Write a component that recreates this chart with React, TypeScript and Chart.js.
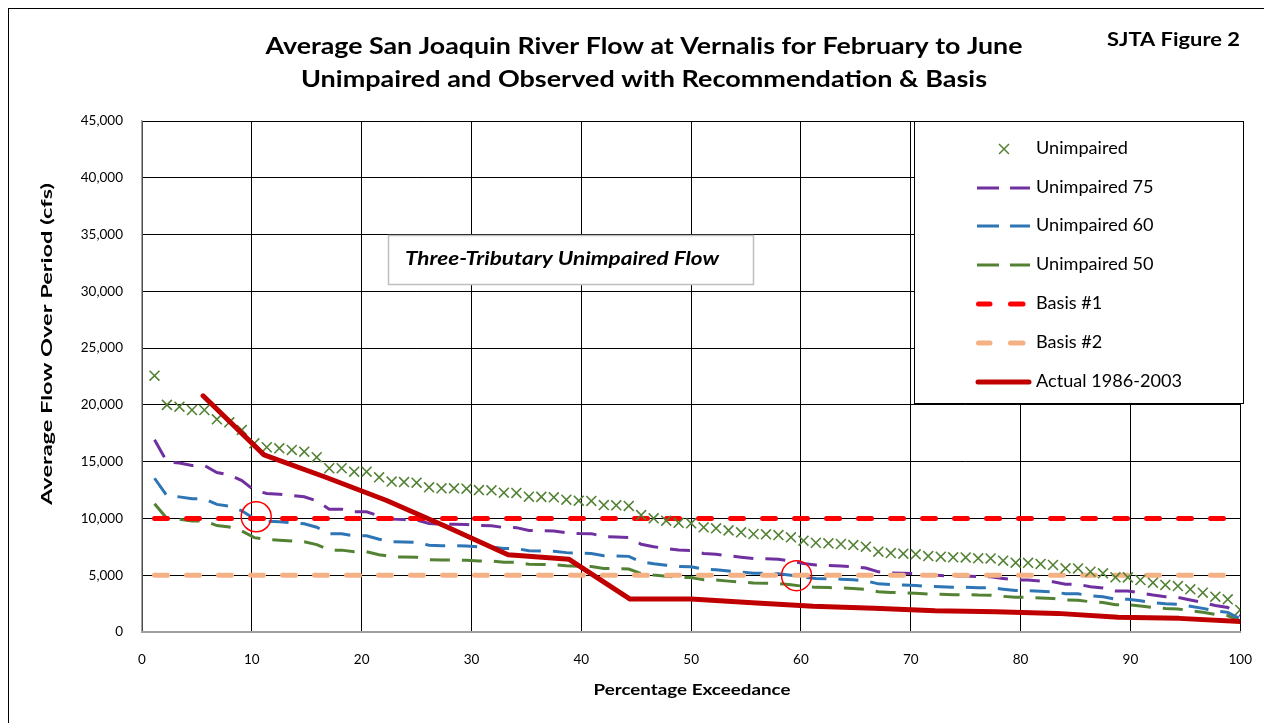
import React, { useEffect, useRef } from "react";
import { Chart, registerables } from "chart.js";

Chart.register(...registerables);

// ---- Data ----
const unimpairedPct = [
  1.14, 2.27, 3.41, 4.55, 5.68, 6.82, 7.95, 9.09, 10.23, 11.36,
  12.5, 13.64, 14.77, 15.91, 17.05, 18.18, 19.32, 20.45, 21.59, 22.73,
  23.86, 25.0, 26.14, 27.27, 28.41, 29.55, 30.68, 31.82, 32.95, 34.09,
  35.23, 36.36, 37.5, 38.64, 39.77, 40.91, 42.05, 43.18, 44.32, 45.45,
  46.59, 47.73, 48.86, 50.0, 51.14, 52.27, 53.41, 54.55, 55.68, 56.82,
  57.95, 59.09, 60.23, 61.36, 62.5, 63.64, 64.77, 65.91, 67.05, 68.18,
  69.32, 70.45, 71.59, 72.73, 73.86, 75.0, 76.14, 77.27, 78.41, 79.55,
  80.68, 81.82, 82.95, 84.09, 85.23, 86.36, 87.5, 88.64, 89.77, 90.91,
  92.05, 93.18, 94.32, 95.45, 96.59, 97.73, 98.86, 100.0,
];

const unimpaired = [
  22570, 20000, 19840, 19550, 19550, 18730, 18470, 17790, 16620, 16270,
  16180, 16030, 15880, 15390, 14420, 14420, 14120, 14120, 13620, 13250,
  13200, 13150, 12740, 12650, 12650, 12620, 12500, 12480, 12270, 12250,
  11920, 11900, 11860, 11650, 11560, 11540, 11180, 11160, 11100, 10300,
  10010, 9800, 9620, 9570, 9220, 9130, 8950, 8780, 8630, 8600,
  8540, 8340, 8040, 7860, 7810, 7750, 7660, 7510, 7070, 6950,
  6900, 6840, 6690, 6630, 6580, 6570, 6490, 6480, 6280, 6100,
  6090, 5990, 5900, 5610, 5600, 5310, 5170, 4820, 4810, 4580,
  4340, 4140, 4050, 3760, 3460, 3110, 2880, 1940,
];

const unimpaired75 = [
  16930, 15000, 14880, 14660, 14660, 14050, 13850, 13340, 12470, 12200,
  12140, 12020, 11910, 11540, 10820, 10820, 10590, 10590, 10220, 9940,
  9900, 9860, 9560, 9490, 9490, 9470, 9380, 9360, 9200, 9190,
  8940, 8930, 8900, 8740, 8670, 8660, 8390, 8370, 8330, 7730,
  7510, 7350, 7220, 7180, 6920, 6850, 6710, 6590, 6470, 6450,
  6410, 6260, 6030, 5900, 5860, 5810, 5750, 5630, 5300, 5210,
  5180, 5130, 5020, 4970, 4940, 4930, 4870, 4860, 4710, 4580,
  4570, 4490, 4430, 4210, 4200, 3980, 3880, 3620, 3610, 3440,
  3260, 3110, 3040, 2820, 2600, 2330, 2160, 1460,
];

const unimpaired60 = [
  13540, 12000, 11900, 11730, 11730, 11240, 11080, 10670, 9970, 9760,
  9710, 9620, 9530, 9230, 8650, 8650, 8470, 8470, 8170, 7950,
  7920, 7890, 7640, 7590, 7590, 7570, 7500, 7490, 7360, 7350,
  7150, 7140, 7120, 6990, 6940, 6920, 6710, 6700, 6660, 6180,
  6010, 5880, 5770, 5740, 5530, 5480, 5370, 5270, 5180, 5160,
  5120, 5000, 4820, 4720, 4690, 4650, 4600, 4510, 4240, 4170,
  4140, 4100, 4010, 3980, 3950, 3940, 3890, 3890, 3770, 3660,
  3650, 3590, 3540, 3370, 3360, 3190, 3100, 2890, 2890, 2750,
  2600, 2480, 2430, 2260, 2080, 1870, 1730, 1160,
];

const unimpaired50 = [
  11290, 10000, 9920, 9780, 9780, 9370, 9240, 8900, 8310, 8140,
  8090, 8020, 7940, 7700, 7210, 7210, 7060, 7060, 6810, 6630,
  6600, 6580, 6370, 6330, 6330, 6310, 6250, 6240, 6140, 6130,
  5960, 5950, 5930, 5830, 5780, 5770, 5590, 5580, 5550, 5150,
  5010, 4900, 4810, 4790, 4610, 4570, 4480, 4390, 4320, 4300,
  4270, 4170, 4020, 3930, 3910, 3880, 3830, 3760, 3540, 3480,
  3450, 3420, 3350, 3320, 3290, 3290, 3250, 3240, 3140, 3050,
  3050, 3000, 2950, 2810, 2800, 2660, 2590, 2410, 2410, 2290,
  2170, 2070, 2030, 1880, 1730, 1560, 1440, 970,
];

const basisPct = [1.14, 100];
const basis1 = [10000, 10000];
const basis2 = [5000, 5000];

const actualPct = [
  5.56, 11.11, 16.67, 22.22, 27.78, 33.33, 38.89, 44.44, 50.0,
  55.56, 61.11, 66.67, 72.22, 77.78, 83.33, 88.89, 94.44, 100.0,
];
const actual = [
  20800, 15600, 13650, 11600, 9250, 6800, 6400, 2900, 2900,
  2580, 2270, 2090, 1880, 1790, 1640, 1290, 1200, 920,
];

const circlePct = [10.4, 59.6];
const circleFlow = [10150, 4960];

const seriesLabels = [
  "Unimpaired",
  "Unimpaired 75",
  "Unimpaired 60",
  "Unimpaired 50",
  "Basis #1",
  "Basis #2",
  "Actual 1986-2003",
];

const titleLine1 = "Average San Joaquin River Flow at Vernalis for February to June";
const titleLine2 = "Unimpaired and Observed with Recommendation & Basis";
const figureTag = "SJTA Figure 2";
const boxText = "Three-Tributary Unimpaired Flow";
const xAxisTitle = "Percentage Exceedance";
const yAxisTitle = "Average Flow Over Period (cfs)";

const xMin = 0, xMax = 100, xStep = 10;
const yMin = 0, yMax = 45000, yStep = 5000;

// ---- Styles ----
const FONT = "Lato, 'Open Sans', sans-serif";
const GREEN = "#548235";
const PURPLE = "#7030A0";
const BLUE = "#2E75B6";
const RED = "#FF0000";
const PEACH = "#F4B183";
const DARKRED = "#C00000";

const W = 1263;
const H = 714;

function fitText(
  ctx: CanvasRenderingContext2D,
  text: string,
  x: number,
  y: number,
  font: string,
  width: number,
  align: "center" | "left" = "center",
  rotate = false
) {
  ctx.save();
  ctx.font = font;
  ctx.fillStyle = "#000";
  ctx.textBaseline = "middle";
  ctx.textAlign = "left";
  const w = ctx.measureText(text).width;
  const sx = width / w;
  ctx.translate(x, y);
  if (rotate) ctx.rotate(-Math.PI / 2);
  const x0 = align === "center" ? -width / 2 : 0;
  ctx.translate(x0, 0);
  ctx.scale(sx, 1);
  ctx.fillText(text, 0, 0);
  ctx.restore();
}

const decorPlugin = {
  id: "decor",
  beforeDraw(chart: any) {
    const ctx = chart.ctx as CanvasRenderingContext2D;
    ctx.save();
    ctx.fillStyle = "#fff";
    ctx.fillRect(0, 0, chart.width, chart.height);
    ctx.restore();
  },
  afterDraw(chart: any) {
    const ctx = chart.ctx as CanvasRenderingContext2D;
    // Titles
    fitText(ctx, titleLine1, 635, 38, `bold 23px ${FONT}`, 757);
    fitText(ctx, titleLine2, 635, 71, `bold 23px ${FONT}`, 686);
    fitText(ctx, figureTag, 1098, 31, `bold 18px ${FONT}`, 133, "left");
    // Axis titles
    fitText(ctx, xAxisTitle, 683, 681, `bold 15px ${FONT}`, 197);
    fitText(ctx, yAxisTitle, 38, 335, `bold 15px ${FONT}`, 322, "center", true);

    // Text box
    ctx.save();
    ctx.fillStyle = "#fff";
    ctx.fillRect(379, 226, 365, 49);
    ctx.strokeStyle = "#BFBFBF";
    ctx.lineWidth = 1.5;
    ctx.strokeRect(379.5, 226.5, 365, 49);
    ctx.restore();
    fitText(ctx, boxText, 396, 250, `italic bold 18px ${FONT}`, 314, "left");

    // Legend
    const lx0 = 905, ly0 = 112, lx1 = 1235, ly1 = 395;
    ctx.save();
    ctx.fillStyle = "#fff";
    ctx.fillRect(lx0, ly0, lx1 - lx0, ly1 - ly0);
    ctx.strokeStyle = "#000";
    ctx.lineWidth = 1;
    ctx.strokeRect(lx0 + 0.5, ly0 + 0.5, lx1 - lx0 - 1, ly1 - ly0 - 1);
    ctx.restore();

    ctx.save();
    ctx.font = `17px ${FONT}`;
    const refW = ctx.measureText(seriesLabels[6]).width;
    ctx.restore();
    const labelScale = 146 / refW;

    const rows = [140, 179, 217, 256, 295, 334, 373];
    const ds = chart.data.datasets;
    rows.forEach((ry, i) => {
      const d = ds[i];
      ctx.save();
      if (i === 0) {
        const r = 5;
        ctx.strokeStyle = d.pointBorderColor;
        ctx.lineWidth = 1.5;
        ctx.beginPath();
        ctx.moveTo(995 - r, ry - r);
        ctx.lineTo(995 + r, ry + r);
        ctx.moveTo(995 - r, ry + r);
        ctx.lineTo(995 + r, ry - r);
        ctx.stroke();
      } else {
        ctx.strokeStyle = d.borderColor;
        ctx.lineWidth = d.borderWidth;
        ctx.lineCap = d.borderCapStyle || "butt";
        if (i >= 1 && i <= 3) {
          ctx.beginPath();
          ctx.moveTo(968, ry);
          ctx.lineTo(990, ry);
          ctx.moveTo(1001, ry);
          ctx.lineTo(1021, ry);
          ctx.stroke();
        } else if (i === 4 || i === 5) {
          ctx.beginPath();
          ctx.moveTo(969.5, ry);
          ctx.lineTo(981, ry);
          ctx.moveTo(1001.5, ry);
          ctx.lineTo(1014, ry);
          ctx.stroke();
        } else {
          ctx.lineCap = "round";
          ctx.beginPath();
          ctx.moveTo(969, ry);
          ctx.lineTo(1020, ry);
          ctx.stroke();
        }
      }
      ctx.restore();
      ctx.save();
      ctx.font = `17px ${FONT}`;
      ctx.fillStyle = "#000";
      ctx.textBaseline = "middle";
      ctx.translate(1027, ry);
      ctx.scale(labelScale, 1);
      ctx.fillText(seriesLabels[i], 0, 0);
      ctx.restore();
    });
  },
};

const pts = (xs: number[], ys: number[]) => xs.map((x, i) => ({ x, y: ys[i] }));

export default function App() {
  const ref = useRef<HTMLCanvasElement | null>(null);

  useEffect(() => {
    if (!ref.current) return;
    const chart = new Chart(ref.current, {
      type: "scatter",
      data: {
        datasets: [
          {
            label: seriesLabels[0],
            data: pts(unimpairedPct, unimpaired),
            showLine: false,
            pointStyle: "crossRot",
            pointRadius: 7,
            pointBorderWidth: 1.6,
            pointBorderColor: GREEN,
            borderColor: GREEN,
            backgroundColor: GREEN,
            order: 2,
          },
          {
            label: seriesLabels[1],
            data: pts(unimpairedPct, unimpaired75),
            showLine: true,
            borderColor: PURPLE,
            borderWidth: 3,
            borderDash: [20, 12],
            pointRadius: 0,
            order: 5,
          },
          {
            label: seriesLabels[2],
            data: pts(unimpairedPct, unimpaired60),
            showLine: true,
            borderColor: BLUE,
            borderWidth: 3,
            borderDash: [20, 12],
            pointRadius: 0,
            order: 6,
          },
          {
            label: seriesLabels[3],
            data: pts(unimpairedPct, unimpaired50),
            showLine: true,
            borderColor: GREEN,
            borderWidth: 3,
            borderDash: [20, 12],
            pointRadius: 0,
            order: 7,
          },
          {
            label: seriesLabels[4],
            data: pts(basisPct, basis1),
            showLine: true,
            borderColor: RED,
            borderWidth: 5,
            borderDash: [13, 19],
            borderCapStyle: "round",
            pointRadius: 0,
            order: 3,
          },
          {
            label: seriesLabels[5],
            data: pts(basisPct, basis2),
            showLine: true,
            borderColor: PEACH,
            borderWidth: 5,
            borderDash: [13, 19],
            borderCapStyle: "round",
            pointRadius: 0,
            order: 4,
          },
          {
            label: seriesLabels[6],
            data: pts(actualPct, actual),
            showLine: true,
            borderColor: DARKRED,
            borderWidth: 5,
            borderJoinStyle: "round",
            borderCapStyle: "round",
            pointRadius: 0,
            order: 1,
          },
          {
            label: "circles",
            data: pts(circlePct, circleFlow),
            showLine: false,
            pointRadius: 15,
            pointBorderWidth: 1.5,
            pointBorderColor: RED,
            pointBackgroundColor: "rgba(0,0,0,0)",
            order: 0,
          },
        ],
      },
      options: {
        responsive: false,
        animation: false,
        events: [],
        layout: { padding: { top: 112, right: 28, left: 0, bottom: 0 } },
        plugins: {
          legend: { display: false },
          tooltip: { enabled: false },
          title: { display: false },
        },
        scales: {
          x: {
            type: "linear",
            min: xMin,
            max: xMax,
            ticks: {
              stepSize: xStep,
              color: "#000",
              padding: 20,
              font: { family: FONT, size: 13.5 },
            },
            grid: { color: "#000", lineWidth: 1, drawTicks: false },
            border: { color: "#A0A0A0", width: 2 },
            afterFit: (s: any) => {
              s.height = 91;
            },
          },
          y: {
            type: "linear",
            min: yMin,
            max: yMax,
            ticks: {
              stepSize: yStep,
              color: "#000",
              padding: 19,
              font: { family: FONT, size: 13.5 },
              callback: (v: any) => Number(v).toLocaleString("en-US"),
            },
            grid: { color: "#000", lineWidth: 1, drawTicks: false },
            border: { color: "#A0A0A0", width: 1.5 },
            afterFit: (s: any) => {
              s.width = 133;
            },
          },
        },
      },
      plugins: [decorPlugin],
    } as any);
    return () => chart.destroy();
  }, []);

  return (
    <div
      style={{
        width: W,
        height: H,
        borderLeft: "1px solid #000",
        borderTop: "1px solid #000",
        background: "#fff",
      }}
    >
      <canvas ref={ref} width={W} height={H} style={{ display: "block" }} />
    </div>
  );
}
